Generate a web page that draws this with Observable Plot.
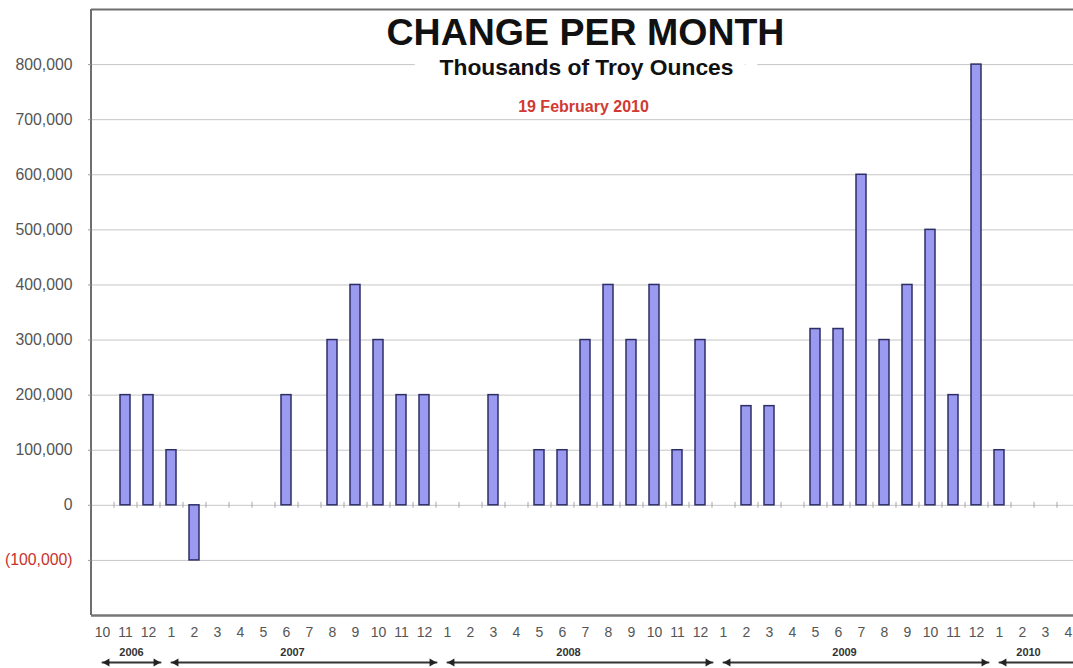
<!DOCTYPE html>
<html><head><meta charset="utf-8">
<script src="https://cdn.jsdelivr.net/npm/d3@7"></script>
<script src="https://cdn.jsdelivr.net/npm/@observablehq/plot@0.6"></script>
<style>html,body{margin:0;padding:0;background:#fff;overflow:hidden}</style>
</head><body><div id="chart"></div>
<script>
// Months shown on the category axis (Oct 2006 .. Apr 2010)
const monthKeys = [
  "2006-10","2006-11","2006-12",
  "2007-01","2007-02","2007-03","2007-04","2007-05","2007-06","2007-07","2007-08","2007-09","2007-10","2007-11","2007-12",
  "2008-01","2008-02","2008-03","2008-04","2008-05","2008-06","2008-07","2008-08","2008-09","2008-10","2008-11","2008-12",
  "2009-01","2009-02","2009-03","2009-04","2009-05","2009-06","2009-07","2009-08","2009-09","2009-10","2009-11","2009-12",
  "2010-01","2010-02","2010-03","2010-04"
];
// Tick labels (month numbers)
const monthTicks = [
  "10","11","12",
  "1","2","3","4","5","6","7","8","9","10","11","12",
  "1","2","3","4","5","6","7","8","9","10","11","12",
  "1","2","3","4","5","6","7","8","9","10","11","12",
  "1","2","3","4"
];
// Change per month (troy ounces); null = no bar
const changes = [
  null, 200000, 200000,
  100000, -100000, null, null, null, 200000, null, 300000, 400000, 300000, 200000, 200000,
  null, null, 200000, null, 100000, 100000, 300000, 400000, 300000, 400000, 100000, 300000,
  null, 180000, 180000, null, 320000, 320000, 600000, 300000, 400000, 500000, 200000, 800000,
  100000, null, null, null
];
const yearNames = ["2006","2007","2008","2009","2010"];
const yDomain = [-200000, 900000];
const gridTicks = [-100000, 0, 100000, 200000, 300000, 400000, 500000, 600000, 700000, 800000];
const posTicks = [0, 100000, 200000, 300000, 400000, 500000, 600000, 700000, 800000];
const negTicks = [-100000];
const titleText = "CHANGE PER MONTH";
const subtitleText = "Thousands of Troy Ounces";
const dateText = "19 February 2010";

const xRange = [91, 1080];
const step = (xRange[1] - xRange[0]) / monthKeys.length;
const fmt = d3.format(",");
const yFmt = d => d < 0 ? `(${fmt(-d)})` : fmt(d);

const bars = monthKeys.map((m, i) => ({month: m, value: changes[i]})).filter(d => d.value != null);
const yearSpans = yearNames.map(y => {
  const ms = monthKeys.filter(m => m.startsWith(y));
  return {year: y, first: ms[0], last: ms[ms.length - 1], mid: ms[Math.floor((ms.length - 1) / 2)]};
});

const base = yDomain[0];
const plot = Plot.plot({
  width: 1073, height: 668,
  marginTop: 9, marginBottom: 53, marginLeft: 91, marginRight: 0,
  style: {fontFamily: "'Liberation Sans', Arial, sans-serif", background: "white", overflow: "hidden"},
  x: {type: "band", domain: monthKeys, range: xRange, paddingInner: 0.55, paddingOuter: 0.275},
  y: {domain: yDomain},
  marks: [
    Plot.gridY(gridTicks, {stroke: "#c6c6c6", strokeOpacity: 1}),
    Plot.ruleX(monthKeys.slice(1), {x: d => d, y1: 0, y2: 0, insetTop: -3, insetBottom: -3, dx: -step / 2, stroke: "#a8a8a8"}),
    Plot.text([subtitleText], {frameAnchor: "top", lineAnchor: "middle", dx: 4, dy: 58, fontSize: 22.8, fontWeight: "bold", fill: "#111", stroke: "white", strokeWidth: 50}),
    Plot.text([titleText], {frameAnchor: "top", lineAnchor: "middle", dx: 3, dy: 23, fontSize: 37.5, fontWeight: "bold", fill: "#111"}),
    Plot.text([dateText], {frameAnchor: "top", lineAnchor: "middle", dx: 1, dy: 97, fontSize: 16, fontWeight: "bold", fill: "#d03a32"}),
    Plot.barY(bars, {x: "month", y: "value", fill: "#9a9af0", stroke: "#2e2e66", strokeWidth: 1.5}),
    Plot.ruleY([yDomain[1]], {stroke: "#6e6e6e", strokeWidth: 2}),
    Plot.ruleY([yDomain[0]], {stroke: "#777", strokeWidth: 2.5}),
    Plot.ruleX([monthKeys[0]], {x: d => d, dx: -step / 2, stroke: "#6e6e6e", strokeWidth: 2}),
    Plot.axisY(posTicks, {tickSize: 3, tickPadding: 16, tickFormat: yFmt, fontSize: 15.8, fill: "#555", stroke: "#999", label: null}),
    Plot.axisY(negTicks, {tickSize: 3, tickPadding: 16, tickFormat: yFmt, fontSize: 15.8, fill: "#c8322c", stroke: "#999", label: null}),
    Plot.axisX({tickSize: 0, tickPadding: 12, tickFormat: m => monthTicks[monthKeys.indexOf(m)], fontSize: 14, fill: "#555", label: null}),
    Plot.arrow(yearSpans, {x1: "first", x2: "last", y1: base, y2: base, dy: 47, insetEnd: -12, headLength: 0, stroke: "#333", strokeWidth: 2}),
    Plot.dot(yearSpans, {x: "first", y: base, dy: 47, dx: 4.6, symbol: "triangle", r: 3, rotate: -90, fill: "#222", stroke: "none"}),
    Plot.dot(yearSpans, {x: "last", y: base, dy: 47, dx: 7.4, symbol: "triangle", r: 3, rotate: 90, fill: "#222", stroke: "none"}),
    Plot.text(yearSpans, {x: "mid", y: base, dy: 37, dx: 6, text: "year", fontSize: 11, fontWeight: "bold", fill: "#333"})
  ]
});
document.getElementById("chart").appendChild(plot);
</script>
</body></html>
